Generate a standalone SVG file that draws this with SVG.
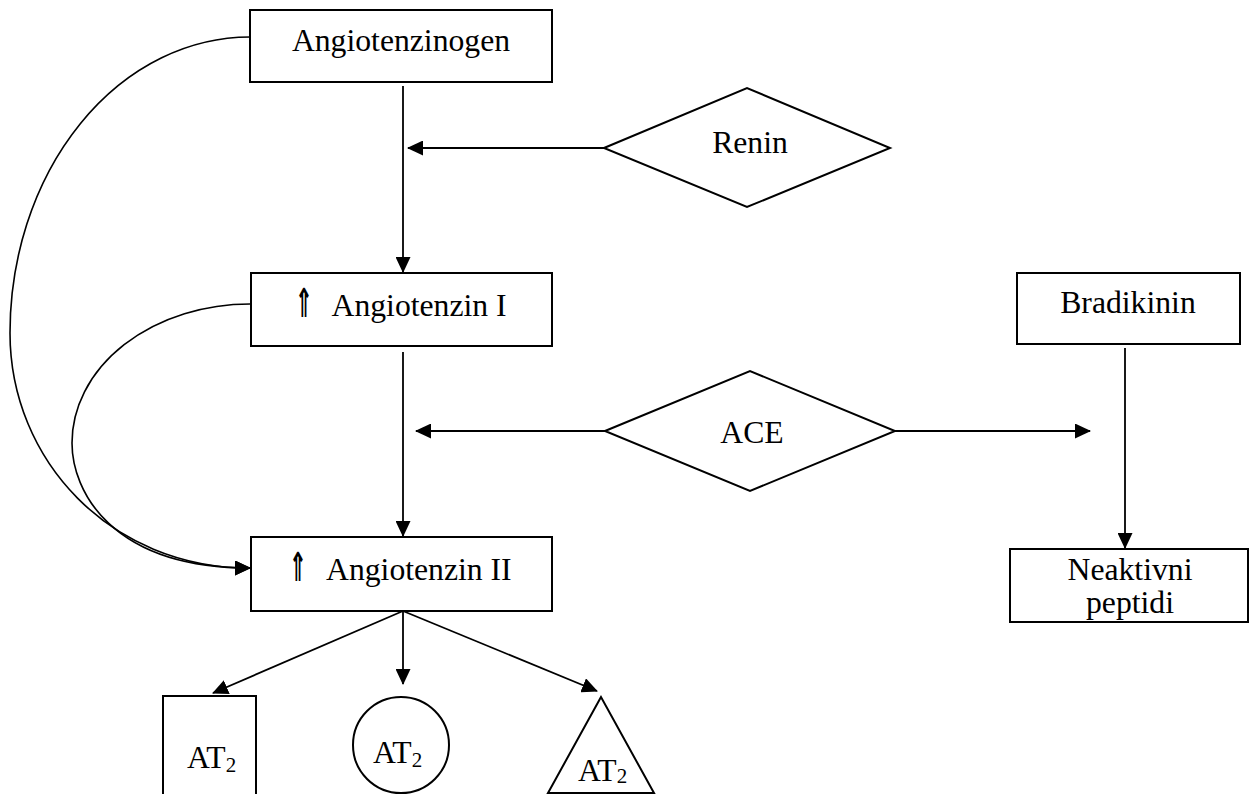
<svg xmlns="http://www.w3.org/2000/svg" width="1252" height="794" viewBox="0 0 1252 794">
<style>
.box{fill:#fff;stroke:#000;stroke-width:2}
.shape{fill:#fff;stroke:#000;stroke-width:2}
.ln{fill:none;stroke:#000;stroke-width:1.8}
.cv{fill:none;stroke:#000;stroke-width:1.6}
.t{font-family:"Liberation Serif","Times New Roman",serif;font-size:31.7px;fill:#000}
.mid{text-anchor:middle}
.sub{font-size:21px}
.arr{font-family:"DejaVu Sans","DejaVu Serif",sans-serif;font-size:40px;font-weight:bold;fill:#000}
</style>
<defs>
<marker id="ah" markerWidth="16" markerHeight="15" refX="15" refY="7.5" orient="auto" markerUnits="userSpaceOnUse">
<path d="M0,0 L16,7.5 L0,15 z" fill="#000"/>
</marker>
</defs>
<rect width="1252" height="794" fill="#fff"/>

<g id="connectors">
<line class="ln" x1="403" y1="86" x2="403" y2="272" marker-end="url(#ah)"/>
<line class="ln" x1="604" y1="148" x2="408" y2="148" marker-end="url(#ah)"/>
<line class="ln" x1="403" y1="352" x2="403" y2="536" marker-end="url(#ah)"/>
<line class="ln" x1="605" y1="431" x2="416" y2="431" marker-end="url(#ah)"/>
<line class="ln" x1="895" y1="431" x2="1090" y2="431" marker-end="url(#ah)"/>
<line class="ln" x1="1125" y1="348" x2="1125" y2="548" marker-end="url(#ah)"/>
<line class="ln" x1="403" y1="611" x2="213" y2="693" marker-end="url(#ah)"/>
<line class="ln" x1="403" y1="611" x2="403" y2="684" marker-end="url(#ah)"/>
<line class="ln" x1="403" y1="611" x2="597" y2="691" marker-end="url(#ah)"/>
<path class="cv" d="M250,37 A240,296 0 0 0 10,333 C10,460 110,568 250,568" marker-end="url(#ah)"/>
<path class="cv" d="M250,304 A178,139 0 0 0 72,443 C72,490 110,568 250,568" marker-end="url(#ah)"/>
</g>

<g id="angiotenzinogen">
<rect class="box" x="250" y="10" width="302" height="72"/>
<text class="t mid" x="401" y="51">Angiotenzinogen</text>
</g>

<g id="renin">
<polygon class="shape" points="604,148 747,88 890,148 747,207"/>
<text class="t mid" x="750" y="153">Renin</text>
</g>

<g id="angiotenzin1">
<rect class="box" x="251" y="273" width="301" height="73"/>
<text class="arr" x="295" y="317" textLength="18" lengthAdjust="spacingAndGlyphs">⇑</text>
<text class="t" x="331.5" y="316">Angiotenzin I</text>
</g>

<g id="bradikinin">
<rect class="box" x="1017" y="273" width="223" height="71"/>
<text class="t mid" x="1128" y="313">Bradikinin</text>
</g>

<g id="ace">
<polygon class="shape" points="605,431 750,371 895,431 750,491"/>
<text class="t mid" x="752" y="443">ACE</text>
</g>

<g id="angiotenzin2">
<rect class="box" x="251" y="537" width="301" height="74"/>
<text class="arr" x="289" y="581" textLength="18" lengthAdjust="spacingAndGlyphs">⇑</text>
<text class="t" x="326" y="580">Angiotenzin II</text>
</g>

<g id="neaktivni">
<rect class="box" x="1010" y="549" width="238" height="73"/>
<text class="t mid" x="1130" y="580">Neaktivni</text>
<text class="t mid" x="1130" y="613">peptidi</text>
</g>

<g id="at2-square">
<rect class="shape" x="163" y="696" width="93" height="120"/>
<text class="t" x="187" y="768">AT<tspan class="sub" dy="4">2</tspan></text>
</g>

<g id="at2-circle">
<circle class="shape" cx="401" cy="745" r="48"/>
<text class="t" x="373" y="763">AT<tspan class="sub" dy="4">2</tspan></text>
</g>

<g id="at2-triangle">
<polygon class="shape" points="601,697 548,793 654,793"/>
<text class="t" x="578" y="781">AT<tspan class="sub" dy="2">2</tspan></text>
</g>
</svg>
